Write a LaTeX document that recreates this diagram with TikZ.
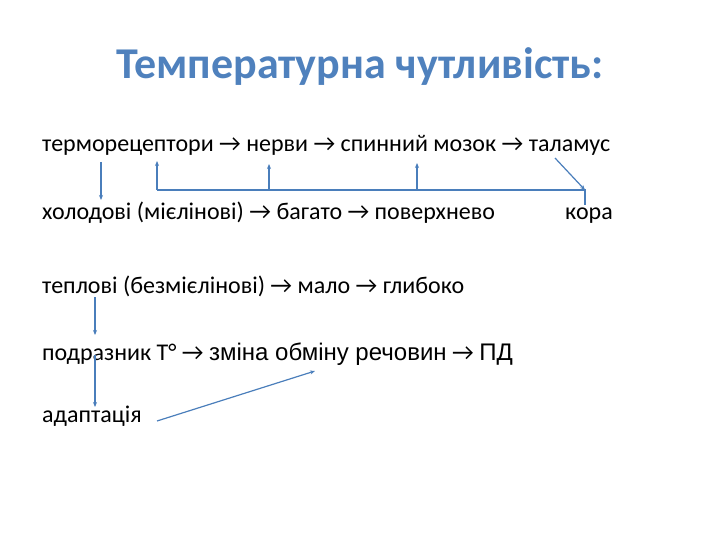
\documentclass[tikz,border=0pt]{standalone}
\usepackage{fontspec}
\setmainfont{Carlito}
\newfontfamily\arialf{Liberation Sans}
\usetikzlibrary{arrows.meta}
\definecolor{titleblue}{HTML}{4F81BD}
\definecolor{linec}{HTML}{4A7EBB}
\begin{document}
\begin{tikzpicture}[x=1pt,y=-1pt,
  txt/.style={anchor=base west, inner sep=0pt, font=\fontsize{24}{28}\selectfont},
  conn/.style={draw=linec, line width=1.2pt},
  tipped/.style={conn, -{Stealth[length=5pt,width=4pt]}}]
\path[use as bounding box] (0,0) rectangle (720,540);
\node[anchor=base, inner sep=0pt, font=\fontsize{44}{50}\selectfont\bfseries, text=titleblue] (title) at (360,79) {Температурна чутливість:};
\node[txt] (l1) at (42,152) {терморецептори → нерви → спинний мозок → таламус};
\node[txt] (l2) at (42,220) {холодові (мієлінові) → багато → поверхнево};
\node[txt] (kora) at (565,220) {кора};
\node[txt] (l3) at (42,293) {теплові (безмієлінові) → мало → глибоко};
\node[txt] (l4) at (42,360) {подразник Т° → {\arialf зміна обміну речовин} → {\arialf ПД}};
\node[txt] (l5) at (42,422) {адаптація};
% named coordinates
\coordinate (a1) at (101,162); \coordinate (a2) at (101,200);
\coordinate (h1) at (157,190); \coordinate (h1t) at (157,161);
\coordinate (h2) at (269,190); \coordinate (h2t) at (269,164);
\coordinate (h3) at (417,190); \coordinate (h3t) at (417,163);
\coordinate (h4) at (585,190); \coordinate (h4b) at (585,205);
\coordinate (d1) at (555,158);
\coordinate (b1) at (95,297); \coordinate (b2) at (95,335);
\coordinate (c1) at (95,355); \coordinate (c2) at (95,407);
\coordinate (e1) at (157,421); \coordinate (e2) at (315,371);
\draw[tipped] (a1) -- (a2);
\draw[conn] (h1) -- (h4) -- (h4b);
\draw[tipped] (h1) -- (h1t);
\draw[tipped] (h2) -- (h2t);
\draw[tipped] (h3) -- (h3t);
\draw[tipped] (d1) -- (h4);
\draw[tipped] (b1) -- (b2);
\draw[tipped] (c1) -- (c2);
\draw[tipped] (e1) -- (e2);
\end{tikzpicture}
\end{document}
